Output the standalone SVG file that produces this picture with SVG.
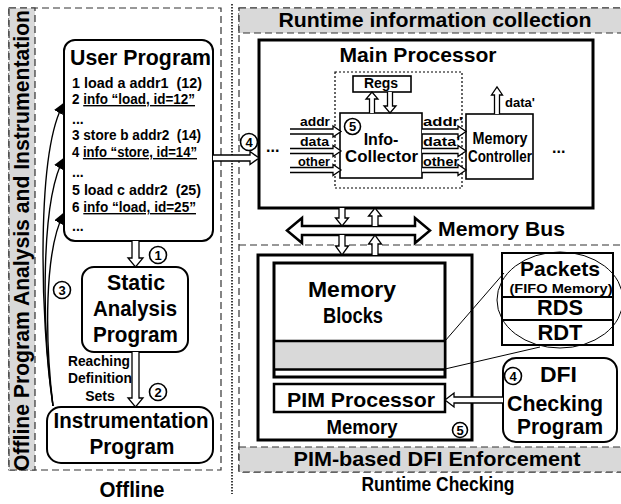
<svg xmlns="http://www.w3.org/2000/svg" width="621" height="504" viewBox="0 0 621 504">
<defs>
<style>
text{font-family:'Liberation Sans',Arial,sans-serif;font-weight:bold;fill:#000}
.big{font-size:21px}
.b22{font-size:22px}
.mid{font-size:16px}
.sm{font-size:14px}
.xs{font-size:13px}
.c{text-anchor:middle}
.dash{fill:none;stroke:#333;stroke-width:1.2;stroke-dasharray:7 4}
.dashg{fill:#d9d9d9;stroke:#333;stroke-width:1.2;stroke-dasharray:7 4}
.box{fill:#fff;stroke:#000;stroke-width:1.6}
.rbox{fill:#fff;stroke:#000;stroke-width:2}
.thick{fill:#fff;stroke:#000;stroke-width:3}
.ha{fill:#fff;stroke:#000;stroke-width:1.3;stroke-linejoin:miter}
.num circle{fill:#fff;stroke:#000;stroke-width:1.6}
.num text{font-size:13px;text-anchor:middle}
.curve{fill:none;stroke:#000;stroke-width:1.4}
</style>
<marker id="ah" markerWidth="12" markerHeight="10" refX="11" refY="5" orient="auto" markerUnits="userSpaceOnUse"><path d="M0,0 L12,5 L0,10 Z" fill="#000"/></marker>
</defs>
<rect width="621" height="504" fill="#fff"/>

<!-- panels -->
<g id="offline-panel">
<rect class="dash" x="9" y="8" width="212" height="462"/>
<rect class="dashg" x="9" y="8" width="26" height="462"/>
<text class="b22" transform="translate(28.5,471) rotate(-90)" textLength="461" lengthAdjust="spacingAndGlyphs">Offline Program Analysis and Instrumentation</text>
<text class="b22 c" x="132" y="497" textLength="65" lengthAdjust="spacingAndGlyphs">Offline</text>
</g>
<line x1="232" y1="4" x2="232" y2="494" stroke="#000" stroke-width="1.5" stroke-dasharray="1.5 1.5"/>
<g id="runtime-panel">
<rect class="dash" x="239" y="8" width="400" height="464"/>
<rect class="dashg" x="239" y="8" width="400" height="25"/>
<line class="dash" x1="239" y1="245" x2="621" y2="245"/>
<rect class="dashg" x="239" y="447" width="400" height="25"/>
<text class="big c" x="435" y="27" textLength="313" lengthAdjust="spacingAndGlyphs">Runtime information collection</text>
<text class="big c" x="437" y="466" textLength="287" lengthAdjust="spacingAndGlyphs">PIM-based DFI Enforcement</text>
<text class="big c" x="438" y="491" textLength="153" lengthAdjust="spacingAndGlyphs">Runtime Checking</text>
</g>

<!-- offline nodes -->
<g id="user-program">
<rect class="rbox" x="64" y="40" width="149" height="201" rx="11"/>
<text class="b22" x="70" y="65" textLength="141" lengthAdjust="spacingAndGlyphs">User Program</text>
<text class="sm" x="72" y="88" xml:space="preserve" style="white-space:pre" textLength="130" lengthAdjust="spacingAndGlyphs">1 load a addr1  (12)</text>
<text class="sm" x="72" y="104" xml:space="preserve" style="white-space:pre" textLength="123" lengthAdjust="spacingAndGlyphs">2 <tspan text-decoration="underline">info “load, id=12”</tspan></text>
<text class="sm" x="72" y="124">...</text>
<text class="sm" x="72" y="140" xml:space="preserve" style="white-space:pre" textLength="129" lengthAdjust="spacingAndGlyphs">3 store b addr2  (14)</text>
<text class="sm" x="72" y="157" xml:space="preserve" style="white-space:pre" textLength="125" lengthAdjust="spacingAndGlyphs">4 <tspan text-decoration="underline">info “store, id=14”</tspan></text>
<text class="sm" x="72" y="177">...</text>
<text class="sm" x="72" y="195" xml:space="preserve" style="white-space:pre" textLength="129" lengthAdjust="spacingAndGlyphs">5 load c addr2  (25)</text>
<text class="sm" x="72" y="212" xml:space="preserve" style="white-space:pre" textLength="124" lengthAdjust="spacingAndGlyphs">6 <tspan text-decoration="underline">info “load, id=25”</tspan></text>
<text class="sm" x="72" y="231">...</text>
</g>
<g id="static-analysis">
<rect class="rbox" x="82" y="267" width="106" height="85" rx="12"/>
<text class="b22 c" x="136" y="290" textLength="58" lengthAdjust="spacingAndGlyphs">Static</text>
<text class="b22 c" x="135" y="316" textLength="84" lengthAdjust="spacingAndGlyphs">Analysis</text>
<text class="b22 c" x="135.5" y="342" textLength="85" lengthAdjust="spacingAndGlyphs">Program</text>
</g>
<g id="instrumentation">
<rect class="rbox" x="47" y="407" width="166" height="56" rx="14"/>
<text class="b22 c" x="131" y="428" textLength="155" lengthAdjust="spacingAndGlyphs">Instrumentation</text>
<text class="b22 c" x="132" y="454" textLength="85" lengthAdjust="spacingAndGlyphs">Program</text>
</g>

<!-- main processor -->
<g id="main-processor">
<rect class="thick" x="259" y="40" width="334" height="168"/>
<text class="big c" x="418" y="62" textLength="157" lengthAdjust="spacingAndGlyphs">Main Processor</text>
<text class="mid" x="266" y="152">...</text>
<text class="mid" x="552" y="153">...</text>
</g>
<g id="info-collector-group">
<rect x="335" y="72" width="127" height="116" fill="none" stroke="#000" stroke-width="1.2" stroke-dasharray="2 2"/>
</g>
<g id="regs">
<rect class="box" x="353" y="76" width="58" height="16"/>
<text class="sm c" x="381" y="88">Regs</text>
</g>
<g id="info-collector">
<rect class="box" x="340" y="113" width="82" height="65"/>
<text class="mid c" x="381" y="145">Info-</text>
<text class="mid c" x="381.5" y="162" textLength="73" lengthAdjust="spacingAndGlyphs">Collector</text>
</g>
<g id="memory-controller">
<rect class="box" x="466" y="114" width="67" height="65"/>
<text class="mid c" x="500" y="144" textLength="55" lengthAdjust="spacingAndGlyphs">Memory</text>
<text class="mid c" x="500" y="162" textLength="64" lengthAdjust="spacingAndGlyphs">Controller</text>
</g>
<g id="signal-labels">
<text class="xs" x="300" y="126" textLength="30" lengthAdjust="spacingAndGlyphs">addr</text>
<text class="xs" x="300" y="146" textLength="29" lengthAdjust="spacingAndGlyphs">data</text>
<text class="xs" x="298" y="166" textLength="32" lengthAdjust="spacingAndGlyphs">other</text>
<text class="xs" x="423" y="126" textLength="40" lengthAdjust="spacingAndGlyphs">addr'</text>
<text class="xs" x="423" y="146" textLength="37" lengthAdjust="spacingAndGlyphs">data'</text>
<text class="xs" x="423" y="166" textLength="36" lengthAdjust="spacingAndGlyphs">other</text>
<text class="xs" x="505" y="107">data'</text>
</g>

<!-- memory side -->
<g id="memory">
<rect class="thick" x="258" y="255" width="214" height="185"/>
<text class="big c" x="362" y="434" textLength="71" lengthAdjust="spacingAndGlyphs">Memory</text>
</g>
<g id="memory-blocks">
<rect class="thick" x="274" y="263" width="171" height="114"/>
<rect x="275.5" y="341" width="168" height="28" fill="#d9d9d9"/>
<line x1="274" y1="341" x2="445" y2="341" stroke="#000" stroke-width="2.5"/>
<line x1="274" y1="369.5" x2="445" y2="369.5" stroke="#000" stroke-width="2.5"/>
<text class="b22 c" x="352" y="297" textLength="88" lengthAdjust="spacingAndGlyphs">Memory</text>
<text class="b22 c" x="353" y="323" textLength="60" lengthAdjust="spacingAndGlyphs">Blocks</text>
</g>
<g id="pim-processor">
<rect x="274" y="384" width="171" height="28" fill="#fff" stroke="#000" stroke-width="2.5"/>
<text class="big c" x="361" y="407" textLength="148" lengthAdjust="spacingAndGlyphs">PIM Processor</text>
</g>
<g id="packets">
<rect x="502" y="253" width="111" height="92" fill="#fff" stroke="#000" stroke-width="2"/>
<line x1="502" y1="297" x2="613" y2="297" stroke="#000" stroke-width="2"/>
<line x1="502" y1="320" x2="613" y2="320" stroke="#000" stroke-width="2"/>
<text class="big c" x="560" y="276" textLength="80" lengthAdjust="spacingAndGlyphs">Packets</text>
<text class="xs c" x="561" y="293" textLength="103" lengthAdjust="spacingAndGlyphs">(FIFO Memory)</text>
<text class="b22 c" x="560" y="315" textLength="46" lengthAdjust="spacingAndGlyphs">RDS</text>
<text class="b22 c" x="560" y="340" textLength="45" lengthAdjust="spacingAndGlyphs">RDT</text>
<ellipse cx="560" cy="300" rx="63" ry="48" fill="none" stroke="#000" stroke-width="1"/>
</g>
<g id="dfi-checking">
<rect class="rbox" x="503" y="358" width="114" height="84" rx="13"/>
<text class="b22" x="540" y="382" textLength="37" lengthAdjust="spacingAndGlyphs">DFI</text>
<text class="b22 c" x="555" y="411" textLength="96" lengthAdjust="spacingAndGlyphs">Checking</text>
<text class="b22 c" x="560" y="434" textLength="86" lengthAdjust="spacingAndGlyphs">Program</text>
</g>
<g id="memory-bus">
<path d="M287,230.5 L302,218 V226 H415 V218 L430,230.5 L415,243 V235 H302 V243 Z" fill="#fff" stroke="#000" stroke-width="2.5" stroke-linejoin="miter"/>
<text class="big" x="438" y="236" textLength="127" lengthAdjust="spacingAndGlyphs">Memory Bus</text>
</g>

<!-- connectors -->
<g id="connectors">
<path class="ha" d="M213,155 H250 V151.5 L259,158 L250,164.5 V161 H213"/>
<path class="ha" d="M290,129 H333 V126 L341,131.5 L333,137 V134 H290"/>
<path class="ha" d="M290,148.5 H333 V145.5 L341,151 L333,156.5 V153.5 H290"/>
<path class="ha" d="M290,167.5 H333 V164.5 L341,170 L333,175.5 V172.5 H290"/>
<path class="ha" d="M422,129 H458 V126 L466,131.5 L458,137 V134 H422"/>
<path class="ha" d="M422,148.5 H458 V145.5 L466,151 L458,156.5 V153.5 H422"/>
<path class="ha" d="M422,167.5 H458 V164.5 L466,170 L458,175.5 V172.5 H422"/>
<path class="ha" d="M369.5,113 V99 H366 L372,92 L378,99 H374.5 V113"/>
<path class="ha" d="M387.5,92 V106 H384 L390,113 L396,106 H392.5 V92"/>
<path class="ha" d="M494.5,114 V95 H491.5 L497,87 L502.5,95 H499.5 V114"/>
<path class="ha" d="M339,208 V218 H335.5 L342,226 L348.5,218 H345 V208"/>
<path class="ha" d="M372,226 V216 H368.5 L375,208 L381.5,216 H378 V226"/>
<path class="ha" d="M339,235 V246 H335.5 L342,255 L348.5,246 H345 V235"/>
<path class="ha" d="M372,255 V244 H368.5 L375,235 L381.5,244 H378 V255"/>
<path class="ha" d="M132,241 V258 H128 L135.5,267 L143,258 H139 V241"/>
<path class="ha" d="M132,352 V398 H128 L135.5,407 L143,398 H139 V352"/>
<path class="ha" d="M503,397 H454 V393 L445,400 L454,407 V403 H503"/>
<path class="curve" d="M53,406 C40,320 36,150 64,103" marker-end="url(#ah)"/>
<path class="curve" d="M53,406 C42,330 40,200 64,158" marker-end="url(#ah)"/>
<path class="curve" d="M53,406 C45,340 44,250 64,213" marker-end="url(#ah)"/>
<line x1="445" y1="341" x2="504" y2="273" stroke="#000" stroke-width="1"/>
<line x1="445" y1="369" x2="540" y2="347" stroke="#000" stroke-width="1"/>
<text class="sm c" x="99" y="366" textLength="62" lengthAdjust="spacingAndGlyphs">Reaching</text>
<text class="sm c" x="100" y="383" textLength="64" lengthAdjust="spacingAndGlyphs">Definition</text>
<text class="sm c" x="100" y="401">Sets</text>
</g>

<!-- step numbers -->
<g id="step-numbers" class="num">
<circle cx="158" cy="255" r="8.5"/><text x="158" y="259.5">1</text>
<circle cx="158" cy="392" r="8.5"/><text x="158" y="396.5">2</text>
<circle cx="62" cy="290" r="8.5"/><text x="62" y="294.5">3</text>
<circle cx="249" cy="142" r="8.5"/><text x="249" y="146.5">4</text>
<circle cx="352.5" cy="126.5" r="8"/><text x="352.5" y="131">5</text>
<circle cx="460" cy="430" r="7.5"/><text x="460" y="434.5">5</text>
<circle cx="513" cy="376" r="8.5"/><text x="513" y="380.5">4</text>
</g>
</svg>
